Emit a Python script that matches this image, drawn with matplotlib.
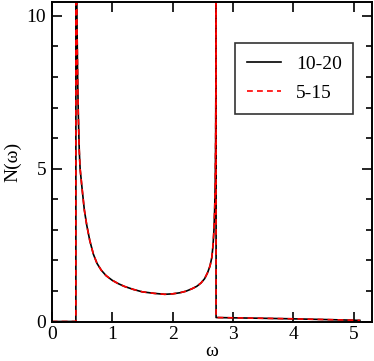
import matplotlib
matplotlib.use("Agg")
import matplotlib.pyplot as plt
from matplotlib.ticker import MultipleLocator

plt.rcParams['font.family'] = ['Liberation Serif', 'DejaVu Serif']

# omega values and density of states
omega_a = [0.0, 0.40, 0.40, 0.401, 0.405, 0.41, 0.415, 0.42, 0.43, 0.44, 0.456, 0.47, 0.50,
           0.54, 0.58, 0.63, 0.69, 0.75, 0.82, 0.90, 1.0, 1.1, 1.2, 1.35, 1.5, 1.7, 1.87,
           2.0, 2.12, 2.22, 2.32, 2.40, 2.47, 2.53, 2.58, 2.62, 2.65, 2.67, 2.685, 2.697,
           2.706, 2.713, 2.717, 2.72, 2.72, 2.72, 3.0, 3.5, 4.0, 4.5, 5.0, 5.1]
dos_a = [0.0, 0.0, 30.0, 25.0, 17.0, 13.0, 10.8, 9.5, 7.9, 6.8, 5.6, 5.0, 4.4,
         3.65, 3.15, 2.65, 2.2, 1.9, 1.68, 1.5, 1.35, 1.24, 1.15, 1.05, 0.97, 0.92, 0.89,
         0.905, 0.94, 0.99, 1.07, 1.15, 1.26, 1.4, 1.6, 1.82, 2.1, 2.5, 3.0, 3.7,
         4.5, 6.0, 8.0, 12.0, 30.0, 0.13, 0.12, 0.105, 0.087, 0.065, 0.042, 0.036]

omega_b = [0.0, 0.40, 0.40, 0.401, 0.405, 0.41, 0.415, 0.42, 0.43, 0.44, 0.456, 0.47, 0.50,
           0.54, 0.58, 0.63, 0.69, 0.75, 0.82, 0.90, 1.0, 1.1, 1.2, 1.35, 1.5, 1.7, 1.87,
           2.0, 2.12, 2.22, 2.32, 2.40, 2.47, 2.53, 2.58, 2.62, 2.65, 2.67, 2.685, 2.697,
           2.706, 2.713, 2.717, 2.72, 2.72, 2.72, 3.0, 3.5, 4.0, 4.5, 5.0, 5.1]
dos_b = [0.0, 0.0, 30.0, 25.0, 17.0, 13.0, 10.8, 9.5, 7.9, 6.8, 5.6, 5.0, 4.4,
         3.65, 3.15, 2.65, 2.2, 1.9, 1.68, 1.5, 1.35, 1.24, 1.15, 1.05, 0.97, 0.92, 0.89,
         0.905, 0.94, 0.99, 1.07, 1.15, 1.26, 1.4, 1.6, 1.82, 2.1, 2.5, 3.0, 3.7,
         4.5, 6.0, 8.0, 12.0, 30.0, 0.13, 0.12, 0.105, 0.087, 0.065, 0.042, 0.036]

labels = ["10-20", "5-15"]
x_ticks = [0, 1, 2, 3, 4, 5]
y_ticks = [0, 5, 10]

FS = 14

fig = plt.figure(figsize=(3.74, 3.61), dpi=100)
ax = fig.add_axes([51.7 / 374, 1 - 321.5 / 361, (372 - 51.7) / 374, (321.5 - 1.5) / 361])

ax.plot(omega_a, dos_a, color='black', lw=1.2, label=labels[0])
ax.plot(omega_b, dos_b, color='#ff0000', lw=1.2, ls=(0, (3.5, 2.5)), label=labels[1])

ax.set_xlim(0, 5.3)
ax.set_ylim(0, 10.47)
ax.set_xticks(x_ticks)
ax.set_yticks(y_ticks)
ax.yaxis.set_minor_locator(MultipleLocator(1))
ax.tick_params(which='both', direction='in', top=True, right=True, width=1.2, labelsize=FS)
ax.tick_params(which='major', length=7)
ax.tick_params(which='minor', length=4)
ax.tick_params(axis='x', pad=3)
ax.tick_params(axis='y', pad=4)
for s in ax.spines.values():
    s.set_linewidth(1.4)

ax.set_xlabel('ω', fontsize=FS, labelpad=0)
ax.set_ylabel('N(ω)', fontsize=FS, labelpad=4)

leg = ax.legend(loc='upper right',
                bbox_to_anchor=((353.3 - 51.7) / 320.3, 1 - (43.3 - 1.5) / 320),
                fontsize=FS, frameon=True, fancybox=False, handlelength=1.75,
                handletextpad=0.75, borderpad=0.6, labelspacing=0.62, borderaxespad=0)
leg.get_frame().set_edgecolor('black')
leg.get_frame().set_linewidth(1.2)

fig.savefig('out.png', dpi=100)
